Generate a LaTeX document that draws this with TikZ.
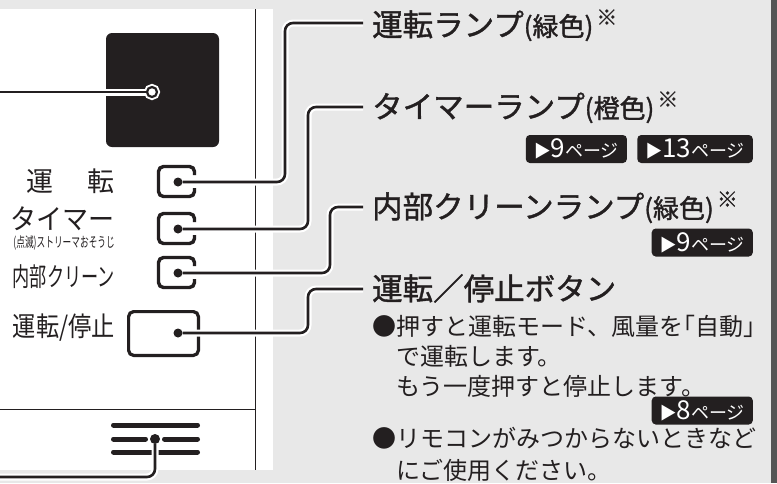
\documentclass[tikz,border=0pt]{standalone}
\usepackage{fontspec}
\usepackage{graphicx}
\setmainfont{Noto Sans CJK JP}
\newfontfamily\headfont[FakeBold=1.3]{Noto Sans CJK JP}
\usetikzlibrary{positioning}

\definecolor{ink}{HTML}{231F20}
\definecolor{panelgray}{HTML}{E8E8E8}
\definecolor{bargray}{HTML}{555555}

\newcommand{\seepage}[1]{{\fontsize{17}{17}\selectfont ▶}{\fontsize{26}{26}\selectfont #1}{\fontsize{18}{18}\selectfont ページ}}
\newcommand{\colournote}[1]{{\fontsize{26}{26}\selectfont (#1)}\hspace{3pt}\raisebox{11pt}{\fontsize{21}{21}\selectfont ※}}
\newcommand{\halfmark}[1]{{\addfontfeature{RawFeature=+halt}#1}}

\tikzset{
  leader/.style={draw=ink, line width=2.6pt, rounded corners=8pt,
    preaction={draw=white, line width=7pt}},
  dot/.style={circle, fill=ink, inner sep=0pt, minimum size=9pt},
  lampbox/.style={rectangle, inner sep=0pt, minimum width=35.6pt, minimum height=29.6pt},
  lampline/.style={draw=ink, line width=3.4pt, rounded corners=5pt},
  iconbar/.style={draw=ink, line width=5pt, line cap=round},
  badge/.style={fill=ink, text=white, rounded corners=4pt, inner xsep=8pt,
    inner ysep=0pt, minimum height=28pt},
  heading/.style={anchor=base west, inner sep=0pt, text=ink,
    font=\headfont\fontsize{30.5}{30.5}\selectfont},
  body/.style={anchor=base west, inner sep=0pt, text=ink, align=left,
    font=\fontsize{24}{30}\selectfont},
  panel label/.style={anchor=base east, inner sep=0pt, text=ink},
}

\begin{document}
\begin{tikzpicture}[x=1pt, y=-1pt]
 \fill[panelgray] (0,0) rectangle (777,483);
 \useasboundingbox (0,0) rectangle (777,483);
 \fill[bargray] (771,0) rectangle (777,483);

 % remote control face
 \fill[white] (0,9) rectangle (273,470);
 \draw[ink, line width=1pt] (255.5,9) -- (255.5,470);
 \draw[ink, line width=1pt] (0,409.5) -- (255.5,409.5);
 \fill[ink, rounded corners=6pt] (106,33) rectangle (219,147);
 \node (lampring) [circle, draw=ink, fill=white, line width=2.2pt, minimum size=10pt,
   inner sep=0pt, preaction={draw=white, line width=6pt}] at (152,92) {};

 % lamps
 \foreach \name/\y in {run/182, timer/229, clean/273} {
   \node (\name box) [lampbox] at (176.5,\y-0.5) {};
   \draw[lampline] ([yshift=6.5pt]\name box.east) |- (\name box.north west)
     |- (\name box.south east) -- ([yshift=-6.5pt]\name box.east);
   \node (\name dot) [dot] at (178,\y) {};
 }
 \node (stopbox) [rectangle, draw=ink, line width=3.2pt, rounded corners=5pt,
   minimum width=69.8pt, minimum height=43.8pt, inner sep=0pt] at (163.5,333.5) {};
 \node (stopdot) [dot] at (178,333) {};

 % signal window mark
 \draw[iconbar] (113.5,425) -- (197.5,425);
 \draw[iconbar] (113.5,439) -- (145.5,439);
 \draw[iconbar] (164.5,439) -- (197.5,439);
 \draw[iconbar] (113.5,452) -- (197.5,452);
 \node (icondot) [dot, minimum size=10pt] at (155,439) {};

 % panel labels
 \node (runlabel) [panel label, font=\fontsize{27}{27}\selectfont] at (115,191) {運\hspace{34pt}転};
 \node (timerlabel) [panel label, font=\fontsize{28}{28}\selectfont] at (115,229) {\scalebox{0.93}[1]{タイマー}};
 \node (streamerlabel) [panel label, font=\fontsize{14}{14}\selectfont] at (115,247) {\scalebox{0.62}[1]{(点滅)ストリーマおそうじ}};
 \node (cleanlabel) [panel label, font=\fontsize{26}{26}\selectfont] at (115,286) {\scalebox{0.66}[1]{内部クリーン}};
 \node (stoplabel) [panel label, font=\fontsize{27}{27}\selectfont] at (115,336) {\scalebox{0.86}[1]{運転/停止}};

 % leaders
 \coordinate (ringend) at (0,92);
 \coordinate (runend) at (363,23);
 \coordinate (timerend) at (363,107);
 \coordinate (cleanend) at (363,207);
 \coordinate (stopend) at (363,289);
 \coordinate (iconend) at (0,477);
 \draw[leader] (ringend) -- (lampring.west);
 \draw[leader] (rundot.east) -| ([xshift=-78pt]runend) -- (runend);
 \draw[leader] (timerdot.east) -| ([xshift=-55pt]timerend) -- (timerend);
 \draw[leader] (cleandot.east) -| ([xshift=-33pt]cleanend) -- (cleanend);
 \draw[leader] (stopdot.east) -| ([xshift=-55pt]stopend) -- (stopend);
 \draw[leader] (icondot.south) |- (iconend);

 % headings
 \node (runlamp) [heading] at (372,36) {運転ランプ\colournote{緑色}};
 \node (timerlamp) [heading] at (372,118) {タイマーランプ\colournote{橙色}};
 \node (cleanlamp) [heading] at (372,218) {内部クリーンランプ\colournote{緑色}};
 \node (stopbutton) [heading] at (372,300) {運転／停止ボタン};

 % page tags
 \node (timerp13) [badge, anchor=east] at (753,149) {\seepage{13}};
 \node (timerp9) [badge, left=10pt of timerp13] {\seepage{9}};
 \node (cleanp9) [badge, anchor=east] at (753,242.5) {\seepage{9}};
 \node (stopp8) [badge, anchor=east] at (753,410.5) {\seepage{8}};

 % notes (base = last line)
 \node (stopnote) [body] at (372,395) {●押すと運転モード、風量を\halfmark{「}自動\halfmark{」}\\\hspace*{1em}で運転します。\\\hspace*{1em}もう一度押すと停止します。};
 \node (lostnote) [body, font=\fontsize{24}{32}\selectfont] at (372,479) {●リモコンがみつからないときなど\\\hspace*{1em}にご使用ください。};
\end{tikzpicture}
\end{document}
